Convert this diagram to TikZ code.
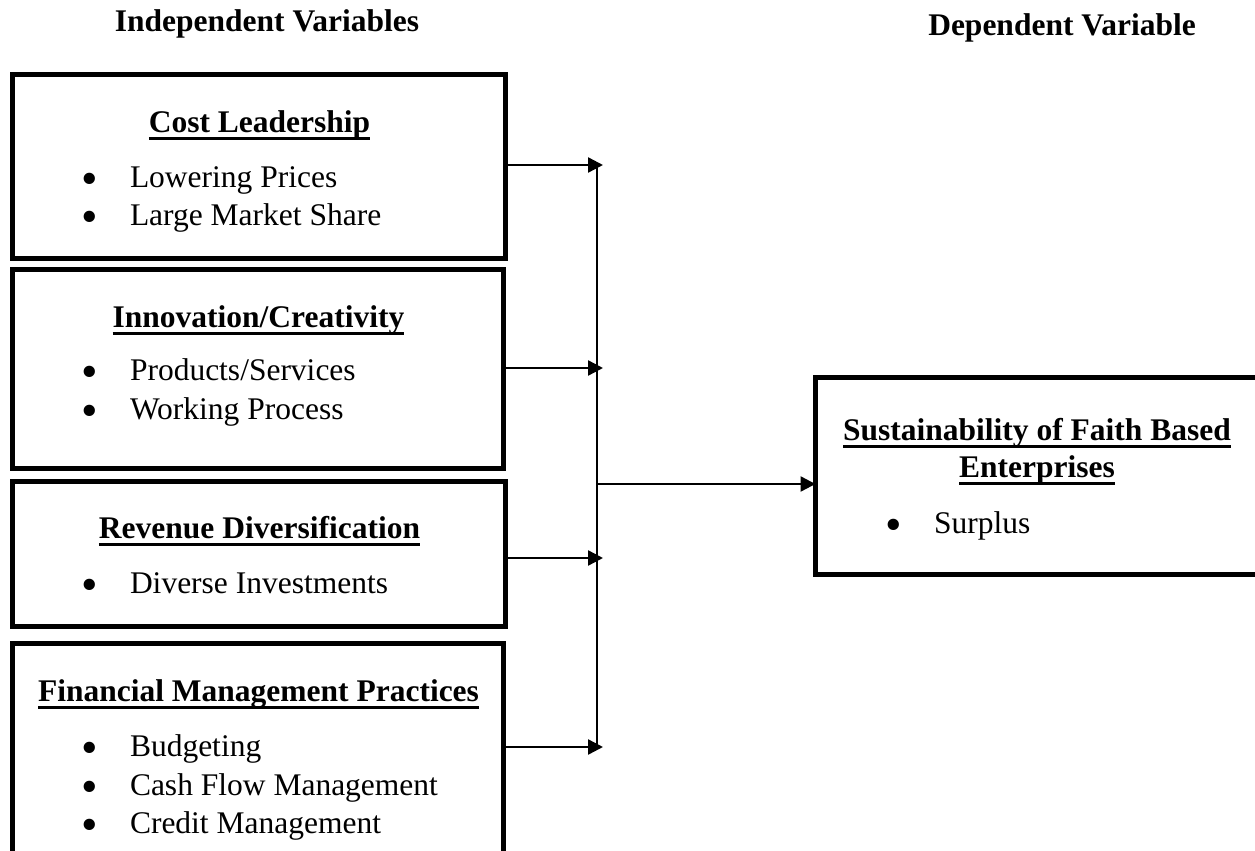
\documentclass[tikz,border=0pt]{standalone}
\usepackage{fontspec}
\setmainfont{Liberation Serif}
\usetikzlibrary{arrows.meta}
\newsavebox\ulsave
\newcommand\ultext[1]{\sbox\ulsave{#1}\rlap{\rule[-4pt]{\wd\ulsave}{1.5pt}}\usebox\ulsave}
\newcommand\bigbul{\smash{\raisebox{-3.5pt}{\scalebox{1.5}{•}}}}
\begin{document}
\begin{tikzpicture}[x=0.5pt,y=-0.5pt,
  box/.style={draw, line width=2.5pt, inner sep=0pt, outer sep=0pt, anchor=north west},
  txt/.style={inner sep=0pt, outer sep=0pt, font=\fontsize{15.75pt}{18.5pt}\selectfont},
  ttl/.style={txt, anchor=base, font=\fontsize{15.75pt}{18.5pt}\selectfont\bfseries},
  itm/.style={txt, anchor=base west},
  bul/.style={txt, anchor=base},
  arr/.style={line width=1.2pt, -{Triangle[length=7.5pt,width=7.5pt]}},
  busline/.style={line width=1pt}]
\useasboundingbox (0,0) rectangle (1255,851);
\clip (0,0) rectangle (1255,851);
% headers
\node[ttl] (h1) at (267,32) {Independent Variables};
\node[ttl] (h2) at (1062,35) {Dependent Variable};
% boxes
\node[box, minimum width=246.5pt, minimum height=92pt] (b1) at (12.5,74.5) {};
\node[box, minimum width=245.5pt, minimum height=99.5pt] (b2) at (12.5,269.5) {};
\node[box, minimum width=246.5pt, minimum height=72.5pt] (b3) at (12.5,481.5) {};
\node[box, minimum width=245.5pt, minimum height=118.25pt] (b4) at (12.5,643.5) {};
\node[box, minimum width=221.25pt, minimum height=98.5pt] (rb) at (815.5,377.5) {};
% box 1
\node[ttl] (t1) at (259.5,132) {\ultext{Cost Leadership}};
\node[bul] (p1a) at (89.5,187) {\bigbul};
\node[itm] (i1a) at (130,187) {Lowering Prices};
\node[bul] (p1b) at (89.5,225) {\bigbul};
\node[itm] (i1b) at (130,225) {Large Market Share};
% box 2
\node[ttl] (t2) at (258.5,327) {\ultext{Innovation/Creativity}};
\node[bul] (p2a) at (89.5,380) {\bigbul};
\node[itm] (i2a) at (130,380) {Products/Services};
\node[bul] (p2b) at (89.5,419) {\bigbul};
\node[itm] (i2b) at (130,419) {Working Process};
% box 3
\node[ttl] (t3) at (259.5,538) {\ultext{Revenue Diversification}};
\node[bul] (p3a) at (89.5,593) {\bigbul};
\node[itm] (i3a) at (130,593) {Diverse Investments};
% box 4
\node[ttl] (t4) at (258.5,701) {\ultext{Financial Management Practices}};
\node[bul] (p4a) at (89.5,756) {\bigbul};
\node[itm] (i4a) at (130,756) {Budgeting};
\node[bul] (p4b) at (89.5,795) {\bigbul};
\node[itm] (i4b) at (130,795) {Cash Flow Management};
\node[bul] (p4c) at (89.5,833) {\bigbul};
\node[itm] (i4c) at (130,833) {Credit Management};
% right box
\node[ttl] (t5) at (1037,440) {\ultext{Sustainability of Faith Based}};
\node[ttl] (t5b) at (1037,477) {\ultext{Enterprises}};
\node[bul] (p5a) at (893.5,533) {\bigbul};
\node[itm] (i5a) at (934,533) {Surplus};
% connectors
\coordinate (tx) at (603,0);
\coordinate (bt) at (597,164);
\coordinate (bb) at (597,748);
\coordinate (bm) at (597,484);
\draw[busline] (bt) -- (bb);
\draw[arr] ([yshift=0.75pt]b1.east) -- ([yshift=0.75pt]b1.east -| tx);
\draw[arr] ([yshift=0.5pt]b2.east) -- ([yshift=0.5pt]b2.east -| tx);
\draw[arr] ([yshift=-2pt]b3.east) -- ([yshift=-2pt]b3.east -| tx);
\draw[arr] ([yshift=7.375pt]b4.east) -- ([yshift=7.375pt]b4.east -| tx);
\draw[arr] (bm) -- (bm -| rb.west);
\end{tikzpicture}
\end{document}
